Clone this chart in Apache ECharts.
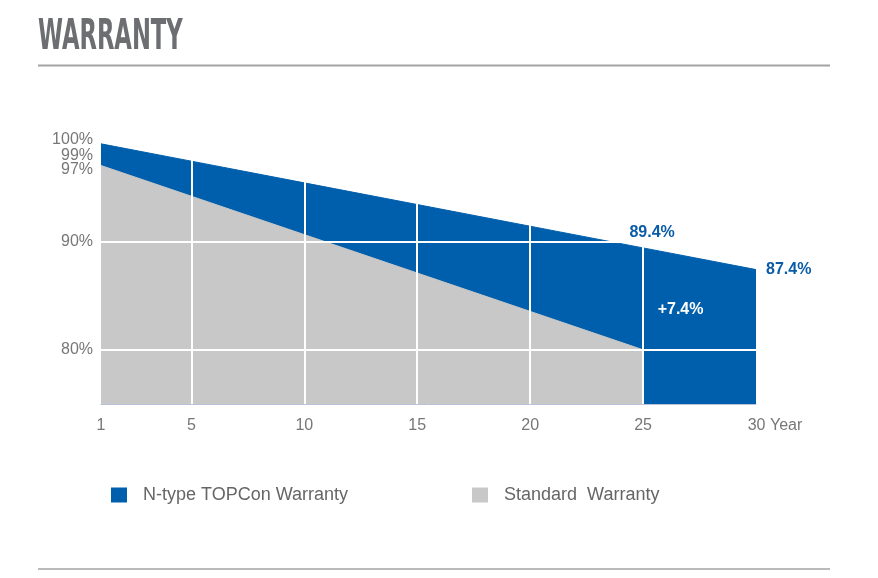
<!DOCTYPE html>
<html>
<head>
<meta charset="utf-8">
<script src="https://cdn.jsdelivr.net/npm/echarts@6/dist/echarts.min.js"></script>
<style>
  html, body { margin: 0; padding: 0; background: #fff; }
  #chart { width: 878px; height: 578px; }
</style>
</head>
<body>
<div id="chart"></div>
<script>
// N-type TOPCon warranty (linear)
const ntypeYears = [1, 5, 10, 15, 20, 25, 30];
const ntypeValues = [99, 97.4, 95.4, 93.4, 91.4, 89.4, 87.4];
// standard warranty
const standardYears = [1, 25];
const standardValues = [97, 80];
// axis ticks
const xTickLabels = [1, 5, 10, 15, 20, 25, 30];
const xGridLines = [5, 10, 15, 20, 25];
const yTickLabels = [80, 90, 100];
const yGridLines = [80, 90];
// the two start values get their own label rows (they crowd the 100% label)
const ntypeStartTick = [99];
const standardStartTick = [97];
// callouts
const gainText = '+7.4%';
const gainPoint = [26.66, 83.75];

const BLUE = '#005fac';
const GREY = '#c8c8c8';
const LABEL_BLUE = '#0a5ca8';
const FONT = '"Liberation Sans", Arial, sans-serif';

function zip(xs, ys) {
    return xs.map((x, i) => [x, ys[i]]);
}

const ntypeData = zip(ntypeYears, ntypeValues);
const standardData = zip(standardYears, standardValues);

// labels sit in their own series so they stay above the white grid lines
let calloutData = [
    {
        value: ntypeData[5],
        label: { position: 'top', offset: [9, 0], distance: 7, color: LABEL_BLUE }
    },
    {
        value: ntypeData[6],
        label: { position: 'right', distance: 10, color: LABEL_BLUE }
    },
    {
        value: gainPoint,
        label: { position: 'inside', color: '#fff', formatter: gainText }
    }
];

// extra label-only y axis, shifted down by shift px
function labelAxis(values, shift) {
    return {
        type: 'value',
        min: 75, max: 100,
        position: 'left',
        axisLine: { show: false },
        axisTick: { show: false },
        splitLine: { show: false },
        axisLabel: {
            customValues: values,
            showMinLabel: true,
            showMaxLabel: true,
            margin: 8,
            formatter: '{s|{value}%}',
            rich: {
                s: { fontSize: 16, color: '#777', fontFamily: FONT, padding: [shift * 2, 0, 0, 0] }
            }
        }
    };
}

let chart = echarts.init(document.getElementById('chart'));

let option = {
    animation: false,
    grid: { left: 101, right: 122, top: 133, bottom: 174 },
    graphic: [
        {
            type: 'text', left: 38, top: 17,
            scaleX: 0.6, z: 10,
            style: {
                text: 'WARRANTY',
                font: 'bold 42px "DejaVu Sans Condensed", "DejaVu Sans", sans-serif',
                fill: '#6d6e71'
            }
        },
        {
            type: 'line', z: 10,
            shape: { x1: 38, y1: 65.5, x2: 830, y2: 65.5 },
            style: { stroke: '#a3a3a3', lineWidth: 2 }
        },
        {
            type: 'line', z: 10,
            shape: { x1: 38, y1: 569, x2: 830, y2: 569 },
            style: { stroke: '#a3a3a3', lineWidth: 1.5 }
        }
    ],
    legend: [
        {
            data: ['N-type TOPCon Warranty'],
            left: 106, top: 481,
            icon: 'rect', itemWidth: 16, itemHeight: 15,
            textStyle: { fontSize: 18, color: '#666', fontFamily: FONT, padding: [0, 0, 0, 11] }
        },
        {
            data: ['Standard  Warranty'],
            left: 467, top: 481,
            icon: 'rect', itemWidth: 16, itemHeight: 15,
            textStyle: { fontSize: 18, color: '#666', fontFamily: FONT, padding: [0, 0, 0, 11] }
        }
    ],
    xAxis: {
        type: 'value',
        min: 1, max: 30,
        z: 5,
        axisLine: { show: true, lineStyle: { color: '#b7c2d8', width: 1 } },
        axisTick: { show: false, customValues: xGridLines },
        splitLine: { show: true, lineStyle: { color: '#fff', width: 2 } },
        axisLabel: {
            customValues: xTickLabels,
            margin: 14,
            fontSize: 16,
            color: '#777',
            fontFamily: FONT,
            formatter: v => v === 30 ? '{y|30 Year}' : String(v),
            rich: {
                y: { fontSize: 16, color: '#777', fontFamily: FONT, padding: [0, 0, 0, 38] }
            }
        }
    },
    yAxis: [
        {
            type: 'value',
            min: 75, max: 100,
            z: 5,
            axisLine: { show: false },
            axisTick: { show: false, customValues: yGridLines },
            splitLine: { show: true, lineStyle: { color: '#fff', width: 2 } },
            axisLabel: {
                customValues: yTickLabels,
                showMaxLabel: true,
                margin: 8,
                fontSize: 16,
                color: '#777',
                fontFamily: FONT,
                formatter: v => v === 100 ? '{a|100%}' : v + '%',
                rich: {
                    a: { fontSize: 16, color: '#777', fontFamily: FONT, padding: [14, 0, 0, 0] }
                }
            }
        },
        labelAxis(ntypeStartTick, 11.5),
        labelAxis(standardStartTick, 4)
    ],
    series: [
        {
            name: 'N-type TOPCon Warranty',
            type: 'line',
            data: ntypeData,
            showSymbol: false,
            z: 1,
            itemStyle: { color: BLUE },
            lineStyle: { color: BLUE, width: 1 },
            areaStyle: { color: BLUE, opacity: 1, origin: 'start' }
        },
        {
            name: 'Standard  Warranty',
            type: 'line',
            data: standardData,
            showSymbol: false,
            z: 2,
            itemStyle: { color: GREY },
            lineStyle: { color: GREY, width: 1 },
            areaStyle: { color: GREY, opacity: 1, origin: 'start' }
        },
        {
            name: 'callouts',
            type: 'scatter',
            symbolSize: 0,
            z: 10,
            silent: true,
            itemStyle: { opacity: 1 },
            data: calloutData,
            label: {
                show: true,
                fontSize: 16,
                fontWeight: 'bold',
                fontFamily: FONT,
                formatter: p => p.value[1] + '%'
            }
        }
    ]
};

chart.setOption(option);
window.addEventListener('resize', function () {
    chart.resize();
});
</script>
</body>
</html>
